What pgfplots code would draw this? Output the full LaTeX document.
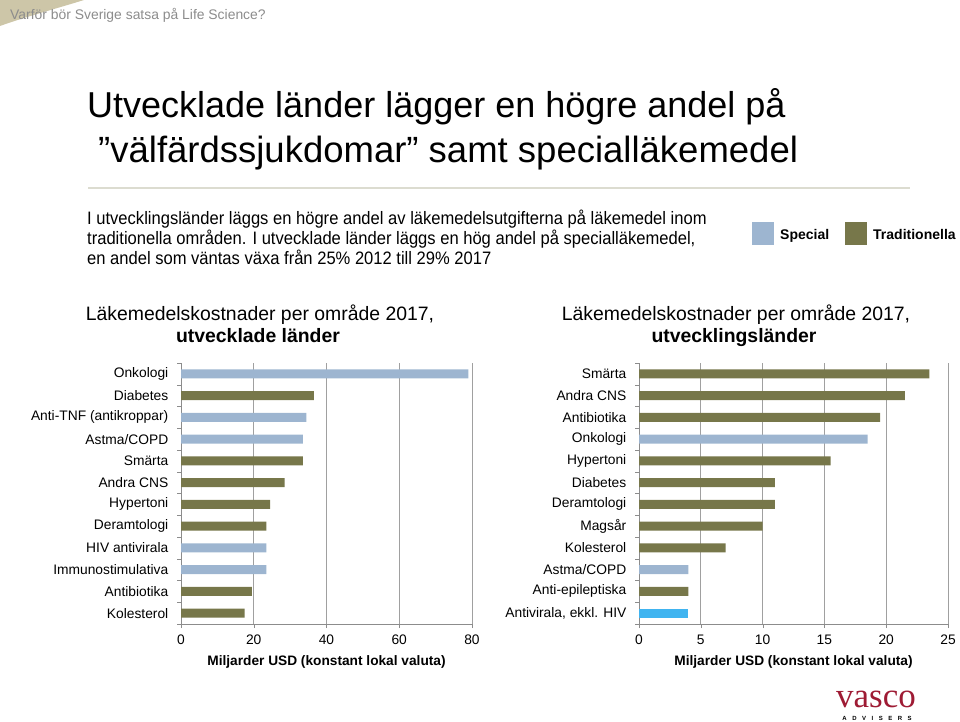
\documentclass[border=0pt]{standalone}
\usepackage{fontspec}
\setmainfont{Liberation Sans}
\newfontfamily\narrowfont[FakeStretch=0.92]{Liberation Sans}
\newfontfamily\serifont{Liberation Serif}
\usepackage{pgfplots}
\pgfplotsset{compat=1.18}
\definecolor{specblue}{RGB}{157,181,208}
\definecolor{tradolive}{RGB}{119,119,74}
\definecolor{brightblue}{RGB}{64,180,240}
\definecolor{axisgray}{RGB}{140,140,140}
\definecolor{gridgray}{RGB}{160,160,160}
\definecolor{headgray}{RGB}{140,140,140}
\definecolor{swoosh}{RGB}{205,198,168}
\definecolor{rulecol}{RGB}{220,220,208}
\definecolor{vascored}{RGB}{158,27,52}
\newcommand{\fs}[1]{\fontsize{#1}{#1}\selectfont}
\pgfplotsset{
 mychart/.style={
  scale only axis, height=261pt,
  xbar, bar width=9pt, bar shift=0pt,
  y dir=reverse, ymin=-0.5, ymax=11.5,
  xmin=0,
  axis x line*=bottom, axis y line*=left,
  axis line style={draw=axisgray},
  xmajorgrids, grid style={draw=gridgray, line width=0.8pt},
  tick align=outside, major tick length=4pt,
  tick style={draw=axisgray},
  ytick={-0.5,0.5,...,11.5}, yticklabels={},
  extra y ticks={0,1,...,11},
  extra y tick style={major tick length=0pt},
  tick label style={font=\fs{13.8}},
  /pgf/number format/assume math mode=true,
  xticklabel style={inner sep=0pt, anchor=north, yshift=-6.5pt},
  yticklabel style={inner sep=0pt, anchor=east, xshift=-12.5pt},
  every axis x label/.style={at={(axis description cs:0.5,0)}, anchor=base, yshift=-41pt, font=\bfseries\fs{13.7}},
  clip=false,
 }
}
\begin{document}
\begin{tikzpicture}[x=1pt,y=1pt]
\path[use as bounding box] (0,0) rectangle (960,-722);
\fill[swoosh] (0,0) -- (84,0) .. controls (55,-9) and (25,-17) .. (0,-26) -- cycle;
\node[anchor=base west, text=headgray, inner sep=0] at (10,-20) {\fs{13.9}Varför bör Sverige satsa på Life Science?};
\node[anchor=base west, inner sep=0] at (87,-118) {\fs{36}Utvecklade länder lägger en högre andel på};
\node[anchor=base west, inner sep=0] at (98,-163) {\fs{36.5}”välfärdssjukdomar” samt specialläkemedel};
\draw[rulecol, line width=1.2pt] (88,-188) -- (910,-188);
\node[anchor=base west, inner sep=0] at (87,-224.5) {\narrowfont\fs{18}I utvecklingsländer läggs en högre andel av läkemedelsutgifterna på läkemedel inom};
\node[anchor=base west, inner sep=0] at (87,-244.5) {\narrowfont\fs{18}traditionella områden. I utvecklade länder läggs en hög andel på specialläkemedel,};
\node[anchor=base west, inner sep=0] at (87,-264.5) {\narrowfont\fs{18}en andel som väntas växa från 25\% 2012 till 29\% 2017};
% legend
\fill[specblue] (752,-222) rectangle (774,-245);
\node[anchor=base west, inner sep=0] at (780,-239) {\bfseries\fs{14}Special};
\fill[tradolive] (845,-222) rectangle (867,-245);
\node[anchor=base west, inner sep=0] at (873,-239) {\bfseries\fs{14}Traditionella};
% chart titles
\node[anchor=base, inner sep=0] at (260,-320) {\fs{19.4}Läkemedelskostnader per område 2017,};
\node[anchor=base, inner sep=0] at (258,-342) {\bfseries\fs{19.4}utvecklade länder};
\node[anchor=base, inner sep=0] at (736,-320) {\fs{19.4}Läkemedelskostnader per område 2017,};
\node[anchor=base, inner sep=0] at (734,-342) {\bfseries\fs{19.4}utvecklingsländer};
% left chart
\begin{axis}[mychart, at={(181pt,-624pt)}, anchor=south west, width=291pt,
  xmax=80, xtick={0,20,...,80},
  extra y tick labels={Onkologi,Diabetes,Anti-TNF (antikroppar),Astma/COPD,Smärta,Andra CNS,Hypertoni,Deramtologi,HIV antivirala,Immunostimulativa,Antibiotika,Kolesterol},
  xlabel={Miljarder USD (konstant lokal valuta)}]
\addplot[fill=specblue, draw=none] coordinates {(79,0) (34.5,2) (33.5,3) (23.5,8) (23.5,9)};
\addplot[fill=tradolive, draw=none] coordinates {(36.5,1) (33.5,4) (28.5,5) (24.5,6) (23.5,7) (19.5,10) (17.5,11)};
\end{axis}
% right chart
\begin{axis}[mychart, at={(639pt,-624pt)}, anchor=south west, width=309pt,
  xmax=25, xtick={0,5,...,25},
  extra y tick labels={Smärta,Andra CNS,Antibiotika,Onkologi,Hypertoni,Diabetes,Deramtologi,Magsår,Kolesterol,Astma/COPD,Anti-epileptiska,{Antivirala, ekkl. HIV}},
  xlabel={Miljarder USD (konstant lokal valuta)}]
\addplot[fill=tradolive, draw=none] coordinates {(23.5,0) (21.5,1) (19.5,2) (15.5,4) (11,5) (11,6) (10,7) (7,8) (4,10)};
\addplot[fill=specblue, draw=none] coordinates {(18.5,3) (4,9)};
\addplot[fill=brightblue, draw=none] coordinates {(4,11)};
\end{axis}
% logo
\node[anchor=base, inner sep=0, text=vascored] at (876,-707) {\serifont\fs{35}vasco};
\node[anchor=base, inner sep=0] at (877,-720) {\bfseries\fs{6}A\hspace{5.5pt}D\hspace{5.5pt}V\hspace{5.5pt}I\hspace{5.5pt}S\hspace{5.5pt}E\hspace{5.5pt}R\hspace{5.5pt}S};
\end{tikzpicture}
\end{document}
